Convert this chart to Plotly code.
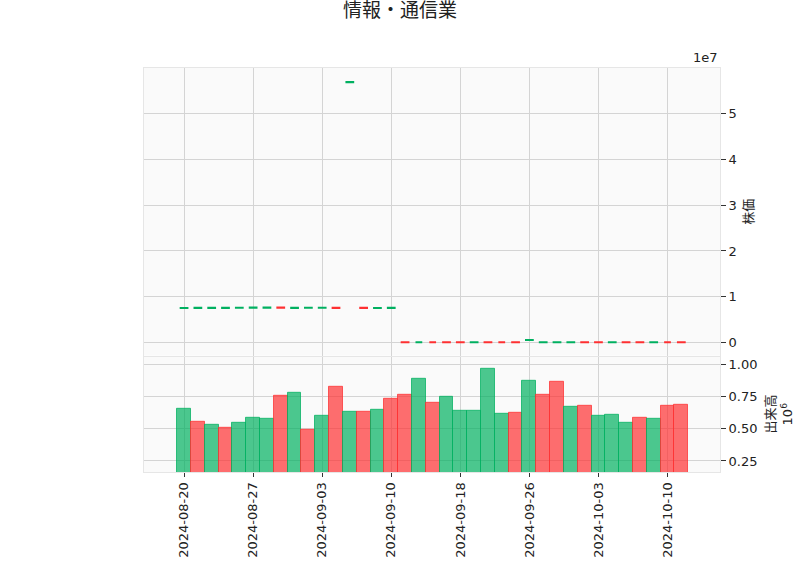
import plotly.graph_objects as go
from plotly.subplots import make_subplots

# trading days shown on the chart
dates = [
    "2024-08-20", "2024-08-21", "2024-08-22", "2024-08-23",
    "2024-08-26", "2024-08-27", "2024-08-28", "2024-08-29", "2024-08-30",
    "2024-09-02", "2024-09-03", "2024-09-04", "2024-09-05", "2024-09-06",
    "2024-09-09", "2024-09-10", "2024-09-11", "2024-09-12", "2024-09-13",
    "2024-09-17", "2024-09-18", "2024-09-19", "2024-09-20",
    "2024-09-24", "2024-09-25", "2024-09-26", "2024-09-27",
    "2024-09-30", "2024-10-01", "2024-10-02", "2024-10-03", "2024-10-04",
    "2024-10-07", "2024-10-08", "2024-10-09", "2024-10-10", "2024-10-11",
]

# prices (1e7 scale)
opens = [
    7.50e6, 7.53e6, 7.52e6, 7.54e6, 7.55e6, 7.56e6, 7.58e6, 7.60e6, 7.54e6,
    7.55e6, 7.56e6, 7.58e6, 5.695e7, 7.55e6, 7.49e6, 7.51e6,
    3.3e4, 3.0e4, 3.2e4, 3.1e4, 3.0e4, 2.8e4, 3.0e4, 2.9e4, 2.9e4, 5.05e5,
    2.7e4, 2.8e4, 2.9e4, 3.1e4, 3.0e4, 2.8e4, 3.0e4, 2.9e4, 2.7e4, 2.9e4, 2.8e4,
]
closes = [
    7.53e6, 7.55e6, 7.56e6, 7.57e6, 7.58e6, 7.60e6, 7.61e6, 7.55e6, 7.57e6,
    7.58e6, 7.59e6, 7.52e6, 5.70e7, 7.50e6, 7.53e6, 7.55e6,
    3.1e4, 3.2e4, 3.0e4, 2.9e4, 2.8e4, 3.0e4, 2.9e4, 2.8e4, 2.7e4, 5.10e5,
    2.9e4, 3.0e4, 3.1e4, 2.9e4, 2.8e4, 3.0e4, 2.9e4, 2.7e4, 2.9e4, 2.8e4, 2.7e4,
]
highs = [
    7.53e6, 7.55e6, 7.56e6, 7.57e6, 7.58e6, 7.60e6, 7.61e6, 7.60e6, 7.57e6,
    7.66e6, 7.59e6, 7.58e6, 5.70e7, 7.55e6, 7.53e6, 7.55e6,
    3.3e4, 3.2e4, 3.2e4, 3.1e4, 3.0e4, 3.0e4, 3.0e4, 2.9e4, 2.9e4, 5.10e5,
    2.9e4, 3.0e4, 3.1e4, 3.1e4, 3.0e4, 3.0e4, 3.0e4, 2.9e4, 2.9e4, 2.9e4, 2.8e4,
]
lows = [
    7.50e6, 7.53e6, 7.52e6, 7.54e6, 7.55e6, 7.56e6, 7.58e6, 7.55e6, 7.54e6,
    7.55e6, 7.56e6, 7.52e6, 5.695e7, 7.50e6, 7.49e6, 7.51e6,
    3.1e4, 3.0e4, 3.0e4, 2.9e4, 2.8e4, 2.8e4, 2.9e4, 2.8e4, 2.7e4, 5.05e5,
    2.7e4, 2.8e4, 2.9e4, 2.9e4, 2.8e4, 2.8e4, 2.9e4, 2.7e4, 2.7e4, 2.8e4, 2.7e4,
]

# volume (1e6 scale) and its up/down colouring
volumes = [
    657000, 551000, 535000, 511000, 545000, 582000, 574000, 758000, 782000,
    495000, 598000, 830000, 630000, 630000, 649000, 734000, 766000, 886000,
    702000, 750000, 638000, 638000, 965000, 614000, 622000, 870000, 766000,
    862000, 670000, 678000, 598000, 606000, 543000, 582000, 574000, 678000, 686000,
]
vol_up = [
    1, 0, 1, 0, 1, 1, 1, 0, 1, 0, 1, 0, 1, 0, 1, 0, 0, 1, 0,
    1, 1, 1, 1, 1, 0, 1, 0, 0, 1, 0, 1, 1, 1, 0, 1, 0, 0,
]

price_ticks = [0, 1e7, 2e7, 3e7, 4e7, 5e7]
price_labels = ["0", "1", "2", "3", "4", "5"]
vol_ticks = [250000, 500000, 750000, 1000000]
vol_labels = ["0.25", "0.50", "0.75", "1.00"]

x = list(range(len(dates)))
tick_idx = x[::5]

up_col = "#00b060"
down_col = "#fe3032"
fnt = "DejaVu Sans, Noto Sans CJK JP"

fig = make_subplots(rows=2, cols=1, shared_xaxes=True, vertical_spacing=0.003,
                    row_heights=[0.714, 0.286])

fig.add_trace(go.Candlestick(
    x=x, open=opens, high=highs, low=lows, close=closes,
    increasing=dict(line=dict(color=up_col, width=2), fillcolor=up_col),
    decreasing=dict(line=dict(color=down_col, width=2), fillcolor=down_col),
    whiskerwidth=0, showlegend=False,
), row=1, col=1)

vcols = ["rgba(0,176,96,0.7)" if u else "rgba(254,48,50,0.7)" for u in vol_up]
vedge = ["rgba(0,176,96,0.75)" if u else "rgba(254,48,50,0.75)" for u in vol_up]
fig.add_trace(go.Bar(
    x=x, y=volumes, width=1.0,
    marker=dict(color=vcols, line=dict(color=vedge, width=1)),
    showlegend=False,
), row=2, col=1)

grid = "#d4d4d4"
edge = "#e6e6e6"
for r in (1, 2):
    fig.update_xaxes(
        row=r, col=1, range=[-2.9, 38.8], tickvals=tick_idx,
        ticktext=[dates[i] for i in tick_idx], showgrid=True, gridcolor=grid,
        zeroline=False, showline=True, linecolor=edge, mirror=True,
        rangeslider=dict(visible=False),
    )
fig.update_xaxes(row=1, col=1, showticklabels=False)
fig.update_xaxes(row=2, col=1, ticks="outside", ticklen=4, tickcolor="#333",
                 tickangle=-90, tickfont=dict(size=13, color="#222"))

fig.update_yaxes(row=1, col=1, side="right", range=[-0.29e7, 6.005e7],
                 tickvals=price_ticks, ticktext=price_labels,
                 ticks="outside", ticklen=5, tickcolor="#333",
                 showgrid=True, gridcolor=grid, zeroline=False,
                 showline=True, linecolor=edge, mirror=True,
                 tickfont=dict(size=13, color="#222"))
fig.update_yaxes(row=2, col=1, side="right", range=[164000, 1060000],
                 tickvals=vol_ticks, ticktext=vol_labels,
                 ticks="outside", ticklen=5, tickcolor="#333",
                 showgrid=True, gridcolor=grid, zeroline=False,
                 showline=True, linecolor=edge, mirror=True,
                 tickfont=dict(size=13, color="#222"))

fig.update_layout(
    width=800, height=575,
    margin=dict(l=144, r=80, t=68, b=103),
    paper_bgcolor="white", plot_bgcolor="#fafafa",
    font=dict(family=fnt, color="#222"),
    title=dict(text="情報・通信業", x=0.5, xanchor="center", y=0.993, yanchor="top",
               font=dict(size=19, color="#222")),
    bargap=0,
    annotations=[
        dict(text="1e7", xref="paper", yref="paper", x=1, y=1, xanchor="right",
             yanchor="bottom", yshift=1, showarrow=False, font=dict(size=13)),
        dict(text="株価", xref="paper", yref="y domain", x=1, y=0.5,
             xshift=29, xanchor="center", yanchor="middle", textangle=-90,
             showarrow=False, font=dict(size=13)),
        dict(text="出来高", xref="paper", yref="y2 domain",
             x=1, y=0.5, xshift=50, xanchor="center", yanchor="middle",
             textangle=-90, showarrow=False, font=dict(size=13)),
        dict(text="10<sup>6</sup>", xref="paper", yref="y2 domain",
             x=1, y=0.5, xshift=67, xanchor="center", yanchor="middle",
             textangle=-90, showarrow=False, font=dict(size=13)),
    ],
)

# page has a default body margin; drop it so the figure sits at the corner
fig.write_html("out.html", config={"displayModeBar": False},
               post_script="document.body.style.margin='0';")
